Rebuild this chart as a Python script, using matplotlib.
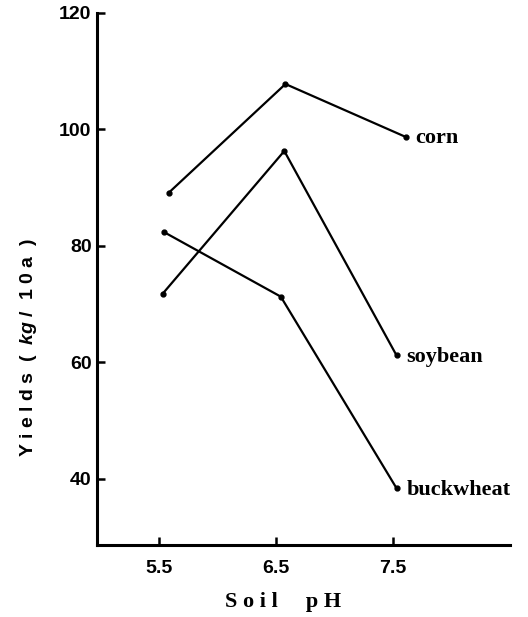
import matplotlib.pyplot as plt

plt.rcParams['mathtext.fontset'] = 'custom'
plt.rcParams['mathtext.it'] = 'Liberation Sans:bold:italic'

# soil pH vs yields
corn_ph = [5.58, 6.58, 7.61]
corn_yield = [89.1, 107.8, 98.7]
soy_ph = [5.53, 6.57, 7.53]
soy_yield = [71.8, 96.3, 61.2]
buck_ph = [5.54, 6.54, 7.53]
buck_yield = [82.4, 71.3, 38.4]

xticks = [5.5, 6.5, 7.5]
xtick_labels = ['5.5', '6.5', '7.5']
yticks = [40, 60, 80, 100, 120]

fig = plt.figure(figsize=(5.28, 6.17), dpi=100)
ax = fig.add_axes([0.184, 0.117, 0.782, 0.862])

for x, y, name in [(corn_ph, corn_yield, 'corn'),
                   (soy_ph, soy_yield, 'soybean'),
                   (buck_ph, buck_yield, 'buckwheat')]:
    ax.plot(x, y, color='black', lw=1.6, marker='o', ms=3.5)
    ax.annotate(name, (x[-1], y[-1]), xytext=(7, -1), textcoords='offset points',
                ha='left', va='center', fontsize=16, fontweight='bold',
                family='Liberation Serif')

ax.set_xlim(4.97, 8.5)
ax.set_ylim(28.7, 120)
ax.set_xticks(xticks)
ax.set_xticklabels(xtick_labels)
ax.set_yticks(yticks)

for s in ['top', 'right']:
    ax.spines[s].set_visible(False)
for s in ['left', 'bottom']:
    ax.spines[s].set_linewidth(2.2)

ax.tick_params(direction='in', length=6, width=1.8, labelsize=14)
ax.tick_params(axis='x', pad=11)
ax.tick_params(axis='y', pad=4)
for lbl in ax.get_xticklabels() + ax.get_yticklabels():
    lbl.set_fontweight('bold')
    lbl.set_family('Liberation Sans')

ax.set_xlabel('S o i l     p H', fontsize=16, fontweight='bold',
              family='Liberation Serif')
ax.xaxis.set_label_coords(0.45, -0.088)
ax.set_ylabel('Y i e l d s  (  $kg$ /  1 0 a  )', fontsize=14,
              fontweight='bold', family='Liberation Sans')
ax.yaxis.set_label_coords(-0.142, 0.37)

fig.savefig('out.png', dpi=100)
